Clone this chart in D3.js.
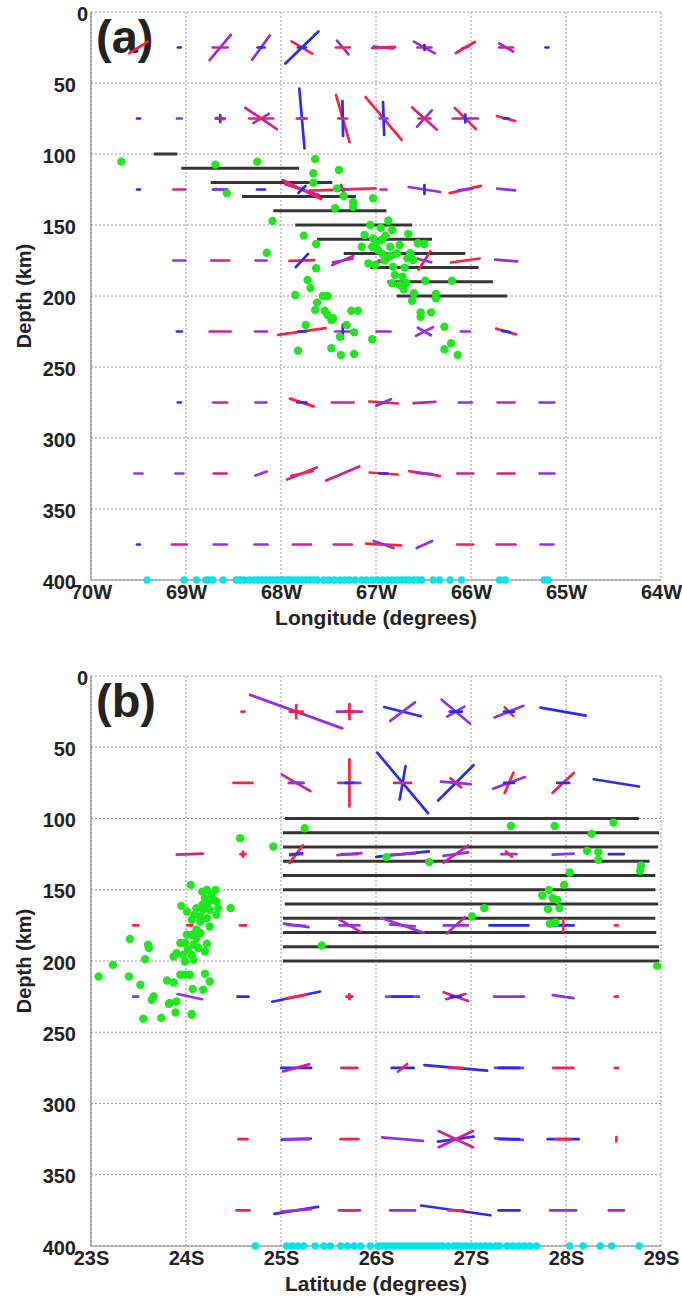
<!DOCTYPE html>
<html>
<head>
<meta charset="utf-8">
<script src="https://cdn.jsdelivr.net/npm/d3@7"></script>
<style>
  body { margin: 0; background: #fff; }
  text { font-family: "Liberation Sans", Arial, Helvetica, sans-serif; font-weight: bold; fill: #222; }
</style>
</head>
<body>
<svg id="fig" width="682" height="1297"></svg>
<script>
// ---- tick values and labels ----
const depthTicks = [0, 50, 100, 150, 200, 250, 300, 350, 400];
const lonTicks = [70, 69, 68, 67, 66, 65, 64];
const lonTickLabels = ["70W", "69W", "68W", "67W", "66W", "65W", "64W"];
const latTicks = [23, 24, 25, 26, 27, 28, 29];
const latTickLabels = ["23S", "24S", "25S", "26S", "27S", "28S", "29S"];

// ---- anisotropy bars: [position (deg), depth (km), set, magnitude, direction (deg, ccw from east)] ----
const barsA = [
  [69.5,25,'r',2.2,32],[69.07,25,'b',0.3,0],
  [68.64,25,'v',3.3,50],[68.64,25,'m',1.5,0],
  [68.21,25,'v',3.0,54],[68.21,25,'b',0.7,0],
  [67.78,25,'b',4.6,44],[67.78,25,'r',2.4,-31],[67.78,25,'b',0.8,0],
  [67.35,25,'v',1.8,-50],[67.35,25,'r',1.4,0],
  [66.92,25,'r',2.3,3],[66.92,25,'m',2.0,-5],
  [66.49,25,'v',2.4,-29],[66.49,25,'m',1.4,0],[66.49,25,'b',0.5,90],
  [66.06,25,'r',2.2,30],[66.06,25,'m',0.8,20],
  [65.63,25,'v',1.6,-30],[65.63,25,'m',1.4,0],
  [65.2,25,'b',0.3,0],

  [69.5,75,'b',0.3,0],[69.07,75,'v',0.5,0],
  [68.64,75,'b',0.9,0],[68.64,75,'b',0.7,90],[68.64,75,'m',0.8,-10],
  [68.21,75,'m',3.8,-34],[68.21,75,'v',1.8,31],[68.21,75,'r',2.4,0],
  [67.78,75,'b',6.0,-85],[67.78,75,'v',1.0,0],[67.78,75,'r',0.6,0],
  [67.35,75,'r',4.9,-74],[67.35,75,'b',3.5,-89],[67.35,75,'m',0.9,0],
  [66.92,75,'r',5.6,-50],[66.92,75,'b',3.3,-88],[66.92,75,'v',0.8,0],
  [66.49,75,'m',3.3,-42],[66.49,75,'v',2.2,48],[66.49,75,'r',1.2,0],
  [66.06,75,'r',3.0,-45],[66.06,75,'m',2.5,0],[66.06,75,'b',0.8,90],
  [65.63,75,'r',1.9,-15],[65.63,75,'b',0.5,0],

  [69.5,125,'b',0.3,0],[69.07,125,'m',1.2,0],
  [68.64,125,'b',1.4,0],[68.64,125,'v',1.0,-5],
  [68.21,125,'b',0.8,0],
  [67.78,125,'r',4.3,-26],[67.78,125,'m',3.5,-18],[67.78,125,'b',1.0,45],
  [67.35,125,'r',6.6,2],[67.35,125,'r',1.0,-70],[67.35,125,'v',1.2,0],
  [66.92,125,'m',0.6,0],
  [66.49,125,'v',3.2,-9],[66.49,125,'b',0.9,90],
  [66.06,125,'r',3.2,13],[66.06,125,'v',1.3,5],
  [65.63,125,'v',1.8,-5],

  [69.07,175,'v',1.2,0],[68.64,175,'m',1.8,0],[68.21,175,'v',1.1,0],
  [67.78,175,'r',2.5,2],[67.78,175,'b',1.8,47],
  [67.35,175,'m',2.3,23],[67.35,175,'v',2.0,10],
  [66.92,175,'r',3.0,20],[66.92,175,'v',1.0,0],
  [66.49,175,'r',2.2,57],[66.49,175,'v',1.4,-15],
  [66.06,175,'r',2.9,8],
  [65.63,175,'v',2.2,-5],

  [69.07,225,'b',0.5,0],[68.64,225,'m',2.1,0],[68.21,225,'v',1.2,0],
  [67.78,225,'r',4.8,8],[67.78,225,'b',0.8,0],
  [67.35,225,'v',1.5,0],[67.35,225,'b',1.4,90],
  [66.92,225,'v',1.4,0],
  [66.49,225,'v',1.9,27],[66.49,225,'v',1.5,-30],
  [66.06,225,'v',0.9,0],
  [65.63,225,'r',2.1,-16],[65.63,225,'b',0.8,-10],

  [69.07,275,'b',0.3,0],[68.64,275,'m',1.4,0],[68.21,275,'v',1.1,0],
  [67.78,275,'r',2.5,-18],[67.78,275,'b',0.9,0],
  [67.35,275,'m',2.2,0],
  [66.92,275,'r',2.9,-4],[66.92,275,'v',1.6,24],
  [66.49,275,'m',2.2,3],
  [66.06,275,'v',1.3,0],[65.63,275,'m',1.7,0],[65.2,275,'v',1.5,0],

  [69.5,325,'v',0.8,0],[69.07,325,'v',0.8,0],[68.64,325,'m',1.3,0],
  [68.21,325,'v',1.2,19],
  [67.78,325,'m',3.2,22],[67.78,325,'r',2.2,12],
  [67.35,325,'m',3.6,23],
  [66.92,325,'r',2.8,-4],[66.92,325,'b',0.8,0],
  [66.49,325,'r',3.1,-9],[66.49,325,'v',1.6,-5],
  [66.06,325,'m',1.6,0],[65.63,325,'m',1.7,0],[65.2,325,'v',1.5,0],

  [69.5,375,'b',0.3,0],[69.07,375,'m',1.5,0],[68.64,375,'v',1.3,0],
  [68.21,375,'v',1.3,0],[67.78,375,'m',1.8,0],[67.35,375,'m',1.8,0],
  [66.92,375,'r',3.5,-3],[66.92,375,'v',2.1,-20],
  [66.49,375,'v',1.7,25],
  [66.06,375,'r',1.6,0],[65.63,375,'m',1.9,0],[65.2,375,'v',1.3,0]
];

const barsB = [
  [24.6,25,'r',0.3,0],
  [25.16,25,'v',9.8,-20],[25.16,25,'r',1.3,0],[25.16,25,'r',1.3,90],
  [25.72,25,'v',2.5,0],[25.72,25,'r',1.5,90],[25.72,25,'r',1.0,0],
  [26.28,25,'b',3.8,-14],[26.28,25,'v',3.1,37],
  [26.84,25,'v',3.7,-40],[26.84,25,'v',2.0,30],[26.84,25,'b',1.2,0],
  [27.4,25,'v',3.1,22],[27.4,25,'r',1.2,-45],[27.4,25,'b',1.0,0],
  [27.97,25,'b',4.6,-10],

  [24.6,75,'r',1.9,0],
  [25.16,75,'m',3.3,-30],[25.16,75,'m',1.5,0],[25.16,75,'v',1.0,0],
  [25.72,75,'r',4.7,90],[25.72,75,'v',2.2,0],[25.72,75,'b',0.8,0],
  [26.28,75,'b',7.9,-50],[26.28,75,'b',3.4,80],[26.28,75,'m',1.7,0],
  [26.84,75,'b',5.0,45],[26.84,75,'v',3.0,-5],[26.84,75,'m',1.4,-40],
  [27.4,75,'v',3.4,20],[27.4,75,'r',2.2,67],[27.4,75,'b',1.0,0],
  [27.97,75,'r',2.9,43],[27.97,75,'b',1.2,0],
  [28.53,75,'b',4.6,-9],

  [24.04,125,'m',2.6,2],
  [24.6,125,'r',0.5,0],[24.6,125,'r',0.5,90],
  [25.16,125,'r',2.2,53],[25.16,125,'r',1.2,0],[25.16,125,'b',1.2,10],
  [25.72,125,'m',2.4,5],[25.72,125,'v',1.6,0],
  [26.28,125,'b',5.3,6],[26.28,125,'v',2.5,3],
  [26.84,125,'m',3.0,35],[26.84,125,'v',2.5,8],
  [27.4,125,'v',1.5,0],[27.4,125,'r',0.8,-40],
  [27.97,125,'v',2.1,3],
  [28.53,125,'b',1.5,0],

  [23.47,175,'r',0.5,0],[24.04,175,'r',0.5,0],[24.6,175,'r',0.6,0],
  [25.16,175,'v',2.5,-8],[25.16,175,'v',1.8,-3],
  [25.72,175,'m',2.5,-30],[25.72,175,'v',2.0,0],
  [26.28,175,'v',4.5,-19],[26.28,175,'v',2.5,-5],
  [26.84,175,'m',2.4,42],[26.84,175,'v',2.4,0],
  [27.4,175,'b',3.9,0],
  [27.97,175,'b',2.1,0],[27.97,175,'r',1.2,90],
  [28.53,175,'r',0.3,0],

  [23.47,225,'v',0.5,0],[24.04,225,'v',2.5,-12],[24.6,225,'b',1.1,0],
  [25.16,225,'b',4.9,12],[25.16,225,'r',2.0,10],
  [25.72,225,'r',0.6,0],[25.72,225,'r',0.5,90],
  [26.28,225,'v',3.3,0],[26.28,225,'b',2.0,0],
  [26.84,225,'m',2.6,-20],[26.84,225,'m',2.0,15],[26.84,225,'b',1.0,0],
  [27.4,225,'v',3.0,0],
  [27.97,225,'v',2.1,-8],
  [28.53,225,'r',0.3,0],

  [25.16,275,'b',3.0,0],[25.16,275,'m',2.7,15],
  [25.72,275,'r',1.6,0],
  [26.28,275,'b',2.2,0],[26.28,275,'r',1.2,40],
  [26.84,275,'b',6.3,-5],[26.84,275,'r',1.4,0],
  [27.4,275,'v',2.8,0],[27.4,275,'b',2.0,0],
  [27.97,275,'r',2.0,0],
  [28.53,275,'r',0.3,0],

  [24.6,325,'r',0.9,0],
  [25.16,325,'b',2.9,2],[25.16,325,'v',2.5,0],
  [25.72,325,'r',1.8,0],
  [26.28,325,'v',4.1,-5],
  [26.84,325,'b',3.6,8],[26.84,325,'m',3.8,25],[26.84,325,'m',3.8,-25],
  [27.4,325,'v',2.8,-3],[27.4,325,'b',2.0,0],
  [27.97,325,'b',3.1,0],[27.97,325,'r',1.5,0],
  [28.53,325,'r',0.4,90],

  [24.6,375,'r',1.3,0],
  [25.16,375,'b',4.4,9],[25.16,375,'v',3.0,5],
  [25.72,375,'v',2.1,0],[25.72,375,'r',1.0,0],
  [26.28,375,'v',2.5,0],
  [26.84,375,'b',7.0,-8],[26.84,375,'r',1.5,0],
  [27.4,375,'b',2.1,0],
  [27.97,375,'v',2.6,0],
  [28.53,375,'m',1.5,0]
];

// ---- slab contour segments: [depth (km), from (deg), to (deg)] ----
const slabA = [
  [100,69.34,69.09],[110,69.05,67.81],[120,68.74,67.46],[130,68.41,67.21],
  [140,68.08,66.89],[150,67.85,66.62],[160,67.62,66.41],[170,67.34,66.06],
  [180,67.06,65.92],[190,66.88,65.77],[200,66.78,65.62]
];
const slabB = [
  [100,25.04,28.77],[110,25.02,28.98],[120,25.02,28.97],[130,25.02,28.88],
  [140,25.02,28.94],[150,25.02,28.94],[160,25.04,28.97],[170,25.02,28.94],
  [180,25.02,28.95],[190,25.02,28.98],[200,25.02,28.98]
];

// ---- intermediate-depth earthquakes: [position (deg), depth (km)] ----
const quakesA = [
  [69.68,105.4],[68.69,107.5],[68.25,105.4],[68.57,127.7],[68.09,147.2],[68.15,169.5],
  [67.76,157.5],[67.63,163.4],[67.63,180.5],[67.72,188.7],[67.69,194.4],[67.64,103.5],
  [67.66,113.6],[67.66,120.2],[67.41,124.2],[67.43,138.2],[67.39,111.3],[67.34,129.6],
  [67.24,134.0],[67.24,137.1],[67.03,131.2],[67.06,150.0],[66.87,147.0],[66.83,153.5],
  [67.12,157.0],[67.03,159.4],[66.94,160.6],[67.15,165.3],[67.04,165.3],[66.98,167.6],
  [66.85,165.3],[66.75,164.1],[66.66,156.3],[66.56,162.9],[66.49,163.4],[66.64,169.9],
  [66.61,174.6],[67.08,177.0],[67.01,178.2],[66.91,175.1],[66.82,179.4],[66.67,173.5],
  [66.80,185.2],[66.72,186.4],[66.83,191.0],[66.75,192.3],[66.48,189.2],[66.20,189.2],
  [66.85,171.8],[66.68,191.0],[66.71,195.3],[66.60,198.1],[66.37,198.6],[66.62,203.3],
  [66.37,201.6],[67.26,210.4],[67.19,210.4],[66.53,211.5],[66.42,211.5],[66.53,214.6],
  [67.31,220.4],[67.23,225.6],[67.04,230.5],[66.28,221.6],[66.21,233.3],[66.28,237.5],
  [66.14,241.5],[67.23,240.8],[67.37,241.5],[67.85,199.3],[67.62,204.7],[67.64,209.9],
  [67.56,200.0],[67.51,200.0],[67.54,210.4],[67.51,213.4],[67.45,215.7],[67.74,220.4],
  [67.47,216.9],[67.82,238.5],[67.47,236.8],[67.38,228.7],[66.95,152.0],[66.90,157.5],
  [67.00,163.0],[66.78,170.0],[66.70,180.0],[66.93,170.5]
];
const quakesB = [
  [24.57,113.8],[24.92,119.7],[25.25,106.8],[24.05,146.6],[24.17,151.3],[24.22,150.1],
  [24.31,150.1],[24.27,153.6],[24.20,155.9],[24.29,157.1],[24.23,159.4],[24.32,158.3],
  [24.17,160.6],[24.11,162.9],[24.18,164.1],[24.25,164.1],[24.34,162.9],[24.32,167.6],
  [24.01,165.3],[24.09,167.6],[24.15,168.8],[24.22,169.9],[24.06,171.1],[24.15,172.3],
  [24.25,175.8],[24.11,178.1],[24.15,180.4],[24.06,181.6],[24.11,183.9],[24.01,181.6],
  [23.99,187.4],[23.94,187.4],[24.08,188.6],[24.22,187.9],[24.13,190.9],[24.02,192.1],
  [24.06,195.7],[24.20,193.3],[23.97,195.7],[23.87,196.8],[23.90,194.5],[23.99,200.3],
  [24.08,199.2],[23.94,209.7],[24.04,209.7],[23.99,209.7],[24.20,209.0],[24.25,214.4],
  [23.80,213.7],[23.87,215.1],[24.07,219.7],[24.18,220.2],[23.90,228.4],[23.83,229.5],
  [24.06,237.2],[23.74,240.0],[23.55,240.5],[23.08,210.9],[23.23,202.7],[23.41,184.6],
  [23.60,188.6],[23.61,190.9],[23.57,198.7],[23.40,210.9],[23.52,216.7],[23.66,224.9],
  [24.47,162.9],[23.95,161.3],[23.89,236.1],[23.82,230.0],[23.64,227.2],[24.06,237.7],
  [27.42,105.2],[27.88,105.2],[28.50,102.9],[28.27,110.8],[28.22,122.7],[28.34,123.6],
  [28.34,129.0],[28.79,133.0],[28.78,136.7],[28.04,137.9],[27.98,146.6],[27.82,150.1],
  [27.75,154.1],[27.86,155.9],[27.91,157.1],[27.81,163.6],[27.93,162.9],[27.14,162.9],
  [27.01,168.8],[27.83,173.9],[27.89,173.0],[28.96,203.4],[26.11,127.1],[26.56,130.6],
  [25.43,189.1]
];

// ---- surface station positions (deg) ----
const stationsA = [
  69.41,69.02,68.89,68.79,68.76,68.72,68.61,68.47,68.43,68.39,68.33,68.28,68.24,68.20,
  68.16,68.12,68.08,68.04,68.00,67.97,67.93,67.90,67.86,67.82,67.78,67.74,67.70,67.66,
  67.62,67.55,67.50,67.44,67.38,67.33,67.28,67.22,67.15,67.10,67.04,66.98,66.93,66.88,
  66.83,66.78,66.73,66.69,66.65,66.60,66.56,66.52,66.40,66.33,66.22,66.10,65.70,65.64,
  65.23,65.19
];
const stationsB = [
  24.73,25.06,25.12,25.18,25.24,25.36,25.45,25.52,25.63,25.70,25.77,25.84,25.94,26.02,
  26.06,26.10,26.14,26.18,26.22,26.26,26.30,26.34,26.38,26.42,26.46,26.50,26.54,26.58,
  26.62,26.66,26.70,26.76,26.82,26.86,26.90,26.95,27.00,27.05,27.10,27.15,27.20,27.26,
  27.30,27.38,27.44,27.50,27.56,27.62,27.69,28.04,28.18,28.36,28.48,28.77
];

const setColor = d3.scaleOrdinal()
  .domain(['r', 'b', 'v', 'm'])
  .range(['#ff1f45', '#2a2aff', '#9530e6', '#d0209a']);

const lenScale = d3.scaleLinear().domain([0, 1]).range([0, 10]);

const svg = d3.select('#fig');
svg.append('rect').attr('width', 682).attr('height', 1297).attr('fill', '#fff');

const panels = [
  { tag: '(a)', domain: [70, 64], ticks: lonTicks, labels: lonTickLabels, title: 'Longitude  (degrees)',
    top: 12, bottom: 580, bars: barsA, slab: slabA, quakes: quakesA, stations: stationsA },
  { tag: '(b)', domain: [23, 29], ticks: latTicks, labels: latTickLabels, title: 'Latitude  (degrees)',
    top: 676, bottom: 1246, bars: barsB, slab: slabB, quakes: quakesB, stations: stationsB }
];

const left = 91, right = 661;

panels.forEach(p => {
  const x = d3.scaleLinear().domain(p.domain).range([left, right]);
  const y = d3.scaleLinear().domain([0, 400]).range([p.top, p.bottom]);
  const g = svg.append('g');

  // dotted grid
  const grid = g.append('g').attr('stroke', '#9a9a9a').attr('stroke-width', 1)
    .attr('stroke-dasharray', '2,2').attr('fill', 'none');
  grid.selectAll('line.v').data(p.ticks).join('line')
    .attr('x1', d => x(d)).attr('x2', d => x(d)).attr('y1', p.top).attr('y2', p.bottom);
  grid.selectAll('line.h').data(depthTicks).join('line')
    .attr('x1', left).attr('x2', right).attr('y1', d => y(d)).attr('y2', d => y(d));

  // solid left and bottom axes
  g.append('path')
    .attr('d', `M${left},${p.top}V${p.bottom}H${right}`)
    .attr('fill', 'none').attr('stroke', '#8a8a8a').attr('stroke-width', 1.2);

  // depth tick labels
  const yAxis = d3.axisLeft(y).tickValues(depthTicks).tickSize(0).tickPadding(15);
  const ya = g.append('g').attr('transform', `translate(${left},0)`).call(yAxis);
  ya.select('.domain').remove();
  ya.selectAll('text').attr('font-size', 20).attr('font-family', null).attr('fill', '#222')
    .attr('dy', '0.4em')
    .attr('x', d => d === 0 ? -3 : -15);

  // horizontal tick labels
  const xAxis = d3.axisBottom(x).tickValues(p.ticks).tickSize(0).tickPadding(5)
    .tickFormat((d, i) => p.labels[i]);
  const xa = g.append('g').attr('transform', `translate(0,${p.bottom})`).call(xAxis);
  xa.select('.domain').remove();
  xa.selectAll('text').attr('font-size', 20).attr('font-family', null).attr('fill', '#222');

  // axis titles
  g.append('text').attr('x', (left + right) / 2).attr('y', p.bottom + 45)
    .attr('text-anchor', 'middle').attr('font-size', 21).text(p.title);
  g.append('text')
    .attr('transform', `translate(31,${(p.top + p.bottom) / 2}) rotate(-90)`)
    .attr('text-anchor', 'middle').attr('font-size', 20).text('Depth  (km)');

  // panel tag
  g.append('text').attr('x', 96).attr('y', p.top + 41)
    .attr('font-size', 47).attr('fill', '#1a1a1a').text(p.tag);

  // slab contours
  g.append('g').selectAll('line').data(p.slab).join('line')
    .attr('x1', d => x(d[1])).attr('x2', d => x(d[2]))
    .attr('y1', d => y(d[0])).attr('y2', d => y(d[0]))
    .attr('stroke', '#353535').attr('stroke-width', 3);

  // anisotropy bars centred on grid nodes
  g.append('g').selectAll('line').data(p.bars).join('line')
    .each(function (d) {
      const cx = x(d[0]), cy = y(d[1]);
      const h = lenScale(d[3]) / 2, a = d[4] * Math.PI / 180;
      d3.select(this)
        .attr('x1', cx - h * Math.cos(a)).attr('y1', cy + h * Math.sin(a))
        .attr('x2', cx + h * Math.cos(a)).attr('y2', cy - h * Math.sin(a));
    })
    .attr('stroke', d => setColor(d[2])).attr('stroke-width', 2.7)
    .attr('stroke-linecap', 'round');

  // earthquakes
  g.append('g').selectAll('circle').data(p.quakes).join('circle')
    .attr('cx', d => x(d[0])).attr('cy', d => y(d[1])).attr('r', 4.2)
    .attr('fill', '#1ee81e');

  // stations along the surface line
  g.append('g').selectAll('circle').data(p.stations).join('circle')
    .attr('cx', d => x(d)).attr('cy', y(400)).attr('r', 3.7)
    .attr('fill', '#00e4ee');
});
</script>
</body>
</html>
